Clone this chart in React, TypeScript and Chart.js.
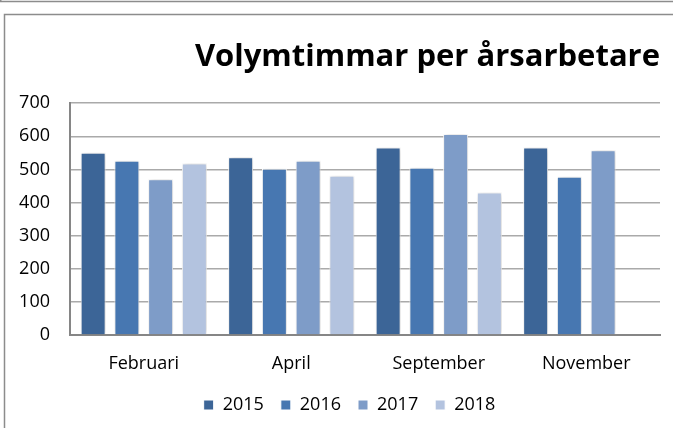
import React, { useEffect, useRef } from "react";
import { Chart, registerables } from "chart.js";

Chart.register(...registerables);

const categories = ["Februari", "April", "September", "November"];
const seriesNames = ["2015", "2016", "2017", "2018"];
const values2015 = [550, 537, 566, 566];
const values2016 = [526, 502, 505, 478];
const values2017 = [470, 526, 607, 558];
const values2018 = [518, 481, 430, null];
const seriesColors = ["#3C6597", "#4777B1", "#7E9CC8", "#B3C3DF"];
const yMin = 0;
const yMax = 700;
const yStep = 100;
const titleText = "Volymtimmar per årsarbetare";

const FONT = "'Open Sans', 'Noto Sans', sans-serif";

const framePlugin = {
  id: "frame",
  beforeDraw(chart: any) {
    const ctx = chart.ctx;
    ctx.save();
    ctx.fillStyle = "#ffffff";
    ctx.fillRect(0, 0, chart.width, chart.height);
    ctx.strokeStyle = "#8C8C8C";
    ctx.lineWidth = 1.5;
    ctx.beginPath();
    ctx.moveTo(0, 1.5);
    ctx.lineTo(chart.width, 1.5);
    ctx.moveTo(0.75, 0);
    ctx.lineTo(0.75, 2);
    ctx.stroke();
    ctx.beginPath();
    ctx.moveTo(4.5, chart.height + 2);
    ctx.lineTo(4.5, 14.5);
    ctx.lineTo(chart.width + 2, 14.5);
    ctx.stroke();
    ctx.restore();
  },
};

const legendShiftPlugin = {
  id: "legendShift",
  afterLayout(chart: any) {
    const lg = chart.legend;
    if (lg) {
      lg.left += 17;
      lg.right += 17;
    }
  },
};

const shadowPlugin = {
  id: "barShadow",
  beforeDatasetsDraw(chart: any) {
    const ctx = chart.ctx;
    ctx.save();
    ctx.shadowColor = "rgba(0,0,0,0.22)";
    ctx.shadowBlur = 5;
    ctx.shadowOffsetX = 1;
    ctx.shadowOffsetY = 0;
  },
  afterDatasetsDraw(chart: any) {
    chart.ctx.restore();
  },
};

export default function App() {
  const ref = useRef<HTMLCanvasElement | null>(null);

  useEffect(() => {
    document.body.style.margin = "0";
    document.body.style.background = "#ffffff";
    const canvas = ref.current;
    if (!canvas) return;
    const seriesValues = [values2015, values2016, values2017, values2018];
    const chart = new Chart(canvas, {
      type: "bar",
      data: {
        labels: categories,
        datasets: seriesNames.map((name, i) => ({
          label: name,
          data: seriesValues[i],
          backgroundColor: seriesColors[i],
          borderColor: "#ffffff",
          borderWidth: 1,
          barPercentage: 0.74,
          categoryPercentage: 0.915,
        })),
      },
      options: {
        responsive: false,
        animation: false,
        devicePixelRatio: 1,
        layout: { padding: { top: 14, left: 5, right: 13, bottom: 4 } },
        plugins: {
          title: {
            display: true,
            text: titleText,
            align: "end",
            color: "#000000",
            font: { family: FONT, size: 31, weight: "bold", lineHeight: 1.2 },
            padding: { top: 25, bottom: 27 },
          },
          legend: {
            position: "bottom",
            labels: {
              color: "#000000",
              font: { family: FONT, size: 18 },
              boxWidth: 10,
              boxHeight: 10,
              padding: 17,
            },
          },
          tooltip: { enabled: false },
        },
        scales: {
          x: {
            grid: { display: false, drawTicks: false },
            border: { color: "#868686", width: 2 },
            ticks: {
              color: "#000000",
              font: { family: FONT, size: 18 },
              padding: 18,
            },
            afterFit(scale: any) {
              scale.height = 44;
            },
          },
          y: {
            min: yMin,
            max: yMax,
            ticks: {
              stepSize: yStep,
              color: "#000000",
              font: { family: FONT, size: 18 },
              padding: 20,
            },
            grid: { color: "#AAAAAA", lineWidth: 1.5, drawTicks: false },
            border: { color: "#868686", width: 2 },
            afterFit(scale: any) {
              scale.width = 65;
            },
          },
        },
      },
      plugins: [framePlugin, legendShiftPlugin, shadowPlugin],
    });
    return () => chart.destroy();
  }, []);

  return <canvas ref={ref} width={673} height={428} style={{ display: "block", width: 673, height: 428 }} />;
}
